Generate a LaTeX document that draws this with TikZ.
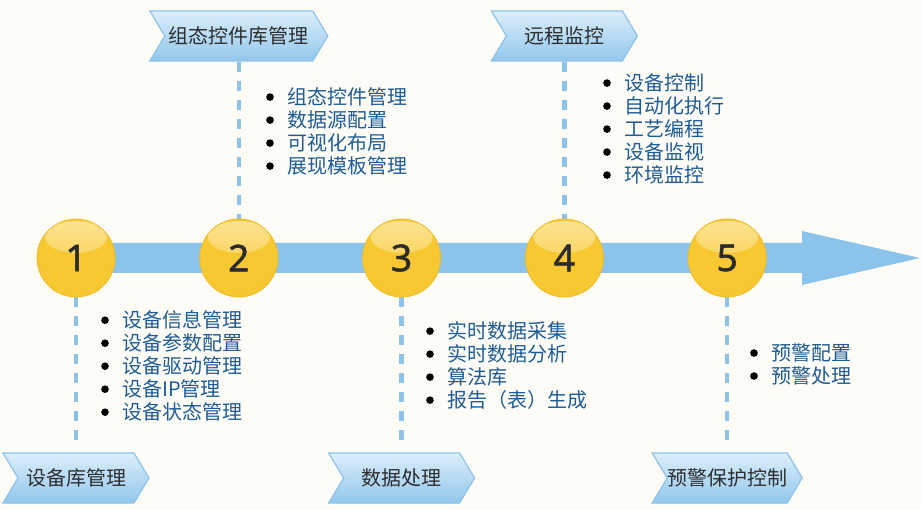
\documentclass[tikz,border=0pt]{standalone}
\usepackage{fontspec}
\setmainfont{Noto Sans CJK SC}
\newfontfamily\numfont[FakeBold=1.4]{Noto Sans}
\usepackage{tikz}
\usetikzlibrary{shapes.symbols, positioning, backgrounds}
\definecolor{bgcolor}{HTML}{FDFCF7}
\definecolor{arrowblue}{HTML}{8CC3EB}
\definecolor{ballyellow}{HTML}{F8C832}
\definecolor{ballhigh}{HTML}{FCE391}
\definecolor{balledge}{HTML}{F0BC24}
\definecolor{numcolor}{HTML}{2B2B2B}
\definecolor{chevtop}{HTML}{DCEEFB}
\definecolor{chevbot}{HTML}{92C7EC}
\definecolor{chevline}{HTML}{8CC3EB}
\definecolor{labelcolor}{HTML}{2E2E2E}
\definecolor{listcolor}{HTML}{1F5C96}
\newcommand{\bul}{\makebox[21pt][l]{\tikz[baseline=-7pt]\fill[black] (0,0) circle (3.8pt);}}

\begin{document}
\begin{tikzpicture}[
    x=1pt, y=-1pt,
    ball/.style={circle, minimum size=78pt, inner sep=0pt, fill=ballyellow, draw=balledge, line width=0.8pt,
        font=\numfont\fontsize{37}{37}\selectfont, text=numcolor,
        path picture={\shade[top color=ballhigh, bottom color=ballyellow]
            ([yshift=-18pt]path picture bounding box.north) ellipse [x radius=31pt, y radius=16pt];}},
    chevron/.style={signal, signal to=east, signal from=west, signal pointer angle=118,
        minimum height=50pt, minimum width=146pt, inner sep=0pt, top color=chevtop, bottom color=chevbot,
        draw=chevline, line width=1.2pt, font=\fontsize{20}{20}\selectfont, text=labelcolor},
    itemlist/.style={align=left, inner sep=0pt, anchor=north west, text=listcolor, font=\fontsize{20}{23}\selectfont},
    dashline/.style={draw=arrowblue, line width=4.5pt, dash pattern=on 10pt off 9pt}
]
    \useasboundingbox (0,0) rectangle (921,510);

    % Steps on the timeline
    \node[ball] (c1) at (76,258) {1};
    \node[ball, right=84pt of c1] (c2) {2};
    \node[ball, right=84pt of c2] (c3) {3};
    \node[ball, right=84pt of c3] (c4) {4};
    \node[ball, right=84pt of c4] (c5) {5};
    \coordinate (tip) at (920,258);

    % Labels - top row
    \node[chevron, minimum width=178pt, above=157pt of c2] (t2) {组态控件库管理};
    \node[chevron, above=157pt of c4] (t4) {远程监控};

    % Labels - bottom row
    \node[chevron, below=155pt of c1] (b1) {设备库管理};
    \node[chevron, below=155pt of c3] (b3) {数据处理};
    \node[chevron, below=155pt of c5] (b5) {预警保护控制};

    % Item lists
    \node[itemlist] (l1) at (101,310) {\bul 设备信息管理\\\bul 设备参数配置\\\bul 设备驱动管理\\\bul 设备IP管理\\\bul 设备状态管理};
    \node[itemlist] (l2) at (266,87) {\bul 组态控件管理\\\bul 数据源配置\\\bul 可视化布局\\\bul 展现模板管理};
    \node[itemlist] (l3) at (426,321) {\bul 实时数据采集\\\bul 实时数据分析\\\bul 算法库\\\bul 报告（表）生成};
    \node[itemlist] (l4) at (603,73) {\bul 设备控制\\\bul 自动化执行\\\bul 工艺编程\\\bul 设备监视\\\bul 环境监控};
    \node[itemlist] (l5) at (750,343) {\bul 预警配置\\\bul 预警处理};

    \begin{scope}[on background layer]
        \fill[bgcolor] (0,0) rectangle (921,510);
        % Arrow
        \fill[arrowblue] ([yshift=15pt]c1.center) -- ([xshift=-118pt, yshift=15pt]tip)
            -- ([xshift=-118pt, yshift=27pt]tip) -- (tip) -- ([xshift=-118pt, yshift=-27pt]tip)
            -- ([xshift=-118pt, yshift=-15pt]tip) -- ([yshift=-15pt]c1.center) -- cycle;
        % Dashed leaders
        \draw[dashline] (c1.south) -- ([yshift=10pt]b1.north -| c1);
        \draw[dashline] (t2.south -| c2) -- (c2.north);
        \draw[dashline] (c3.south) -- ([yshift=10pt]b3.north -| c3);
        \draw[dashline] (t4.south -| c4) -- (c4.north);
        \draw[dashline] (c5.south) -- ([yshift=10pt]b5.north -| c5);
    \end{scope}
\end{tikzpicture}
\end{document}
